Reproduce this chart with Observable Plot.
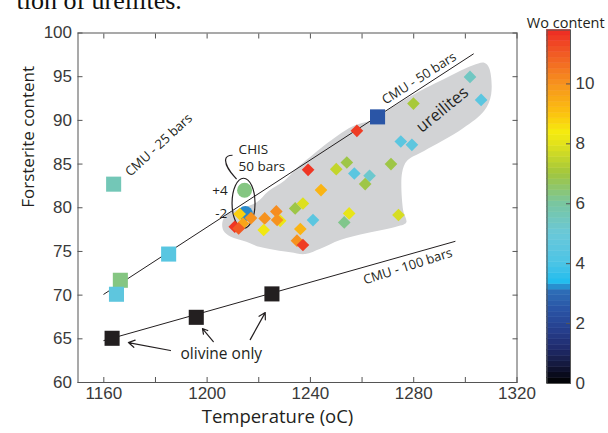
<!DOCTYPE html>
<html><head><meta charset="utf-8">
<script src="https://cdn.jsdelivr.net/npm/d3@7"></script>
<script src="https://cdn.jsdelivr.net/npm/@observablehq/plot@0.6"></script>
<style>
body{margin:0;background:#fff;}
#chart{position:relative;width:608px;height:433px;overflow:hidden;background:#fff;}
#chart svg{position:absolute;left:0;top:0;}
</style></head><body><div id="chart"></div>
<script>
// ---- colour map (Wo content) ----
const woStops  = [0, 0.6, 1.2, 1.8, 2.5, 3.1, 3.4, 4.0, 5.0, 6.0, 7.0, 8.0, 8.4, 9.0, 10.0, 11.0, 11.8];
const woColors = ["#000000","#14183c","#202c6e","#26408f","#2a55a6","#2d6fb8","#22bdee","#4cc4e6","#6ac8d9","#79c6a0","#a2c63d","#e3e31b","#f6ea0f","#fcc20f","#f6921e","#f15a24","#ee2a24"];
const woTicks  = [0, 2, 4, 6, 8, 10];

// ---- axes ----
const xMajor = [1160, 1200, 1240, 1280, 1320];
const xMinor = [1160, 1180, 1200, 1220, 1240, 1260, 1280, 1300, 1320];
const yTicks = [60, 65, 70, 75, 80, 85, 90, 95, 100];

// ---- CMU squares (coloured by Wo) ----
const sqT  = [1163.8, 1166.4, 1164.9, 1185.1, 1266.0];
const sqFo = [82.7, 71.7, 70.1, 74.7, 90.4];
const sqWo = [5.6, 6.3, 4.6, 4.4, 2.5];

// ---- olivine-only squares (CMU 100 bars) ----
const olT  = [1163.2, 1195.8, 1225.1];
const olFo = [65.06, 67.46, 70.14];

// ---- CHIS 50 bars circles ----
const ciT  = [1214.8, 1214.5];
const ciFo = [79.35, 82.0];
const ciWo = [3.2, 6.3];

// ---- ureilite diamonds ----
const diT  = [1212.6, 1217.0, 1213.9, 1210.7, 1212.2, 1222.3, 1228.3, 1226.8, 1227.1, 1221.9, 1234.1, 1237.1, 1239.1, 1244.1, 1241.0, 1236.1, 1234.8, 1237.1, 1250.0, 1254.1, 1257.0, 1262.9, 1261.2, 1271.2, 1255.0, 1253.1, 1274.1, 1258.0, 1301.8, 1306.1, 1279.9, 1275.0, 1279.3];
const diFo = [79.28, 78.82, 78.2, 77.83, 77.63, 78.78, 78.5, 79.58, 78.6, 77.45, 79.92, 80.49, 84.34, 82.02, 78.59, 77.57, 76.23, 75.74, 84.42, 85.18, 83.92, 83.66, 82.71, 85.0, 79.35, 78.32, 79.17, 88.8, 94.97, 92.34, 91.92, 87.58, 87.2];
const diWo = [8.8, 10.0, 9.6, 11.6, 11.0, 10.0, 8.2, 10.1, 10.0, 8.3, 6.9, 7.9, 11.6, 9.3, 4.5, 9.3, 10.0, 11.5, 7.5, 6.9, 4.5, 5.2, 6.9, 6.9, 8.1, 6.2, 7.8, 11.5, 5.4, 4.5, 7.1, 4.5, 4.6];

// ---- ureilite field outline ----
const fieldT  = [1205.9, 1207.4, 1212.9, 1219.1, 1223.7, 1229.9, 1234.5, 1239.9, 1245.7, 1256.2, 1265.1, 1271.7, 1280.2, 1292.9, 1303.0, 1307.3, 1309.2, 1310.0, 1307.3, 1299.1, 1284.0, 1277.5, 1275.5, 1275.9, 1277.1, 1272.8, 1262.0, 1251.5, 1243.8, 1238.0, 1232.2, 1220.6, 1215.2, 1209.0, 1206.3];
const fieldFo = [78.3, 79.2, 79.9, 80.6, 81.9, 83.1, 84.5, 85.8, 87.2, 89.3, 90.2, 91.5, 93.0, 94.9, 96.3, 96.6, 96.0, 93.0, 91.1, 89.1, 86.5, 85.4, 84.0, 79.7, 78.3, 77.8, 77.1, 76.3, 75.3, 74.7, 74.9, 75.5, 76.1, 76.7, 77.4];

// ---- CMU lines ----
const cmu50T  = [1160.0, 1303.1];
const cmu50Fo = [70.1, 97.6];
const cmu100T  = [1160.0, 1296.0];
const cmu100Fo = [64.8, 76.15];

// ---- arrows "olivine only" ----
const arT1 = [1185.8, 1202.4, 1216.7];
const arF1 = [63.66, 64.69, 64.91];
const arT2 = [1169.5, 1198.2, 1222.5];
const arF2 = [64.57, 66.17, 68.0];

// ---- labels ----
const rotText = ["CMU - 25 bars", "CMU - 50 bars", "CMU - 100 bars"];
const rotT    = [1181.3, 1282.1, 1277.7];
const rotFo   = [87.18, 94.8, 73.28];
const rotAng  = [-42.6, -32.5, -17.8];
const chisText = ["CHIS", "50 bars"];
const chisT    = [1212.2, 1212.2];
const chisFo   = [86.63, 84.69];
const offText = ["+4", "-2"];
const offT    = [1207.95, 1207.8];
const offFo   = [81.94, 79.31];
const chisLoopT = 1214.3, chisLoopFo = 80.46;

const rows = (keys, ...cols) => cols[0].map((_, i) => Object.fromEntries(keys.map((k, j) => [k, cols[j][i]])));

const squares = rows(["t","fo","wo"], sqT, sqFo, sqWo);
const olivine = rows(["t","fo"], olT, olFo);
const circles = rows(["t","fo","wo"], ciT, ciFo, ciWo);
const diamonds = rows(["t","fo","wo"], diT, diFo, diWo);
const field = rows(["t","fo"], fieldT, fieldFo);
const cmu50 = rows(["t","fo"], cmu50T, cmu50Fo);
const cmu100 = rows(["t","fo"], cmu100T, cmu100Fo);
const arrows = rows(["t1","f1","t2","f2"], arT1, arF1, arT2, arF2);
const rotLabels = rows(["s","t","fo","a"], rotText, rotT, rotFo, rotAng);
const chisLabels = rows(["s","t","fo"], chisText, chisT, chisFo);
const offLabels = rows(["s","t","fo"], offText, offT, offFo);

const ann = "'Open Sans', sans-serif";
const tickFont = "'Liberation Sans', Arial, sans-serif";
const ink = "#231f20";
const axisC = "#555";
const colorOpt = {type: "linear", domain: woStops, range: woColors, clamp: true};
const plain = d => String(d);

const main = Plot.plot({
  width: 608, height: 433,
  marginLeft: 77.5, marginRight: 91.5, marginTop: 32.5, marginBottom: 51,
  style: {background: "transparent", color: "#333"},
  x: {domain: [1150, 1320]},
  y: {domain: [60, 100]},
  color: colorOpt,
  marks: [
    Plot.line(field, {x: "t", y: "fo", curve: "catmull-rom-closed", fill: "#d2d3d5", stroke: "none"}),
    Plot.line(cmu50, {x: "t", y: "fo", stroke: ink, strokeWidth: 1}),
    Plot.line(cmu100, {x: "t", y: "fo", stroke: ink, strokeWidth: 1}),
    (index, scales) => {
      const cx = scales.x(chisLoopT), cy = scales.y(chisLoopFo);
      const g = d3.create("svg:g").attr("fill", "none").attr("stroke", ink).attr("stroke-width", 1.2);
      g.append("ellipse").attr("cx", cx).attr("cy", cy).attr("rx", 11.5).attr("ry", 25);
      g.append("path").attr("d", `M${cx-7},${cy-24} C${cx-12},${cy-30} ${cx-18},${cy-36} ${cx-18},${cy-43} C${cx-18},${cy-46} ${cx-15},${cy-48} ${cx-11},${cy-48}`);
      return g.node();
    },
    Plot.dot(squares, {x: "t", y: "fo", fill: "wo", symbol: "square", r: 8.5}),
    Plot.dot(circles, {x: "t", y: "fo", fill: "wo", r: 7.5}),
    Plot.dot(diamonds, {x: "t", y: "fo", fill: "wo", symbol: "diamond2", r: 5.7}),
    Plot.dot(olivine, {x: "t", y: "fo", fill: ink, symbol: "square", r: 8.5}),
    Plot.arrow(arrows, {x1: "t1", y1: "f1", x2: "t2", y2: "f2", stroke: ink, strokeWidth: 1.2, headLength: 9}),
    Plot.text(rotLabels, {x: "t", y: "fo", text: "s", rotate: "a", fontSize: 13, fontFamily: ann, fill: ink}),
    Plot.text(["ureilites"], {x: 1291.1, y: 91.22, rotate: -39.3, fontSize: 16.5, fontFamily: ann, fill: ink}),
    Plot.text(chisLabels, {x: "t", y: "fo", text: "s", textAnchor: "start", fontSize: 13.5, fontFamily: ann, fill: ink}),
    Plot.text(offLabels, {x: "t", y: "fo", text: "s", textAnchor: "end", fontSize: 13.5, fontFamily: ann, fill: ink}),
    Plot.text(["olivine only"], {x: 1205.5, y: 63.31, fontSize: 15.5, fontFamily: ann, fill: ink}),
    Plot.frame({stroke: axisC}),
    Plot.axisX(xMinor, {anchor: "bottom", tickSize: 5, dy: -5, tickFormat: () => "", label: null, stroke: axisC}),
    Plot.axisX(xMinor, {anchor: "top", tickSize: 5, dy: 5, tickFormat: () => "", label: null, stroke: axisC}),
    Plot.axisY(yTicks, {anchor: "left", tickSize: 5, dx: 5, tickFormat: () => "", label: null, stroke: axisC}),
    Plot.axisY(yTicks, {anchor: "right", tickSize: 5, dx: -5, tickFormat: () => "", label: null, stroke: axisC}),
    Plot.axisX(xMajor, {anchor: "bottom", tickSize: 0, tickPadding: 4, tickFormat: plain, fontSize: 17, fontFamily: tickFont, label: null, fill: "#3a3a3a"}),
    Plot.axisY(yTicks, {anchor: "left", tickSize: 0, tickPadding: 6, tickFormat: plain, fontSize: 17, fontFamily: tickFont, label: null, fill: "#3a3a3a"}),
    Plot.text(["Temperature (oC)"], {frameAnchor: "bottom", dx: -20, dy: 40, fontSize: 18.5, fontFamily: ann, fill: ink}),
    Plot.text(["Forsterite content"], {frameAnchor: "left", dx: -49.5, rotate: -90, fontSize: 17, fontFamily: ann, fill: ink}),
    Plot.text(["tion of ureilites."], {frameAnchor: "top-left", dx: -61.5, dy: -24.5, lineAnchor: "bottom", textAnchor: "start", fontSize: 26, fontFamily: "'Liberation Serif', serif", fill: "#111"})
  ]
});

const bandEdges = d3.range(65).map(i => i * 11.8 / 64);
const bands = bandEdges.slice(0, -1).map((v, i) => ({y1: v, y2: bandEdges[i + 1], v: (v + bandEdges[i + 1]) / 2}));

const bar = Plot.plot({
  width: 608, height: 433,
  marginLeft: 546.5, marginRight: 38, marginTop: 29.5, marginBottom: 50,
  style: {background: "transparent", color: "#333"},
  x: {domain: [0, 1], axis: null},
  y: {domain: [0, 11.8]},
  color: colorOpt,
  marks: [
    Plot.rect(bands, {x1: 0, x2: 1, y1: "y1", y2: "y2", fill: "v", stroke: "v", strokeWidth: 0.5}),
    Plot.frame({stroke: axisC}),
    Plot.axisY(woTicks, {anchor: "right", tickSize: 5, dx: -5, tickFormat: () => "", label: null, stroke: axisC}),
    Plot.axisY(woTicks, {anchor: "right", tickSize: 0, tickPadding: 5, tickFormat: plain, fontSize: 17, fontFamily: tickFont, label: null, fill: "#3a3a3a"}),
    Plot.text(["Wo content"], {frameAnchor: "top", dx: 7, dy: -12, fontSize: 14.5, fontFamily: ann, fill: ink})
  ]
});

const el = document.getElementById("chart");
el.appendChild(main);
el.appendChild(bar);
</script>
</body></html>
